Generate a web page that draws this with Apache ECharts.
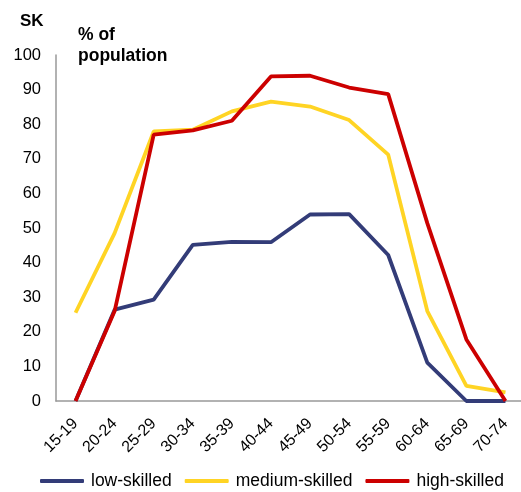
<!DOCTYPE html>
<html><head><meta charset="utf-8">
<script src="https://cdn.jsdelivr.net/npm/echarts@6/dist/echarts.min.js"></script>
<style>html,body{margin:0;padding:0;background:#fff;overflow:hidden}#c{width:525px;height:492px}</style>
</head><body><div id="c"></div>
<script>
const categories = ['15-19','20-24','25-29','30-34','35-39','40-44','45-49','50-54','55-59','60-64','65-69','70-74'];
const lowSkilled = [0, 26.4, 29.3, 45.1, 46, 45.9, 53.9, 54, 42.2, 11.1, 0, 0];
const mediumSkilled = [25.5, 48.5, 77.9, 78.4, 83.7, 86.5, 85.1, 81.2, 71.2, 26, 4.4, 2.5];
const highSkilled = [0, 26, 77, 78.2, 81, 93.8, 94, 90.6, 88.7, 51.4, 17.8, 0];
const yTicks = [0, 10, 20, 30, 40, 50, 60, 70, 80, 90, 100];

const font = 'Liberation Sans, Arial, sans-serif';
const chart = echarts.init(document.getElementById('c'), null, {renderer: 'canvas'});
const mk = (name, data, color) => ({
  name, type: 'line', data, symbol: 'none', smooth: false,
  lineStyle: {color, width: 3.8}, itemStyle: {color}
});
chart.setOption({
  animation: false,
  textStyle: {fontFamily: font},
  graphic: [
    {type: 'text', left: 20, top: 13, style: {text: 'SK', font: 'bold 17px ' + font, fill: '#000'}},
    {type: 'text', left: 78, top: 25, style: {text: '% of\npopulation', font: 'bold 17.5px ' + font, fill: '#000', lineHeight: 21}}
  ],
  grid: {left: 56, right: 0, top: 55, bottom: 91, containLabel: false},
  xAxis: {
    type: 'category', data: categories, boundaryGap: true,
    axisLine: {lineStyle: {color: '#999', width: 1.5}},
    axisTick: {show: false},
    axisLabel: {rotate: 45, color: '#000', fontSize: 16, fontFamily: font, margin: 20, interval: 0}
  },
  yAxis: {
    type: 'value', min: 0, max: 100, interval: 10,
    axisLine: {show: true, lineStyle: {color: '#999', width: 1.5}},
    axisTick: {show: false},
    splitLine: {show: false},
    axisLabel: {color: '#000', fontSize: 16.5, fontFamily: font, margin: 15,
      formatter: v => yTicks.includes(v) ? String(v) : ''}
  },
  legend: {
    bottom: 2, left: 40, padding: 0, itemWidth: 44, itemHeight: 4, itemGap: 13,
    icon: 'roundRect',
    textStyle: {color: '#000', fontSize: 17.5, fontFamily: font, padding: [0, 0, 0, 2]},
    data: ['low-skilled', 'medium-skilled', 'high-skilled']
  },
  series: [
    mk('low-skilled', lowSkilled, '#333c78'),
    mk('medium-skilled', mediumSkilled, '#ffd424'),
    mk('high-skilled', highSkilled, '#cc0000')
  ]
});
</script></body></html>
